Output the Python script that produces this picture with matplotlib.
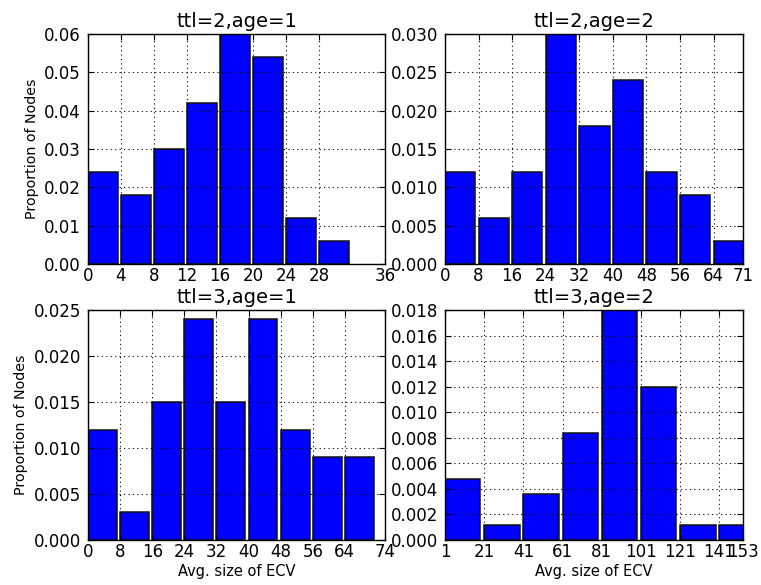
import numpy as np
import matplotlib
matplotlib.use('Agg')
import matplotlib.pyplot as plt

# ttl=2, age=1
e1 = [0, 4, 8, 12, 16, 20, 24, 28]
v1 = [0.024, 0.018, 0.030, 0.042, 0.060, 0.054, 0.012, 0.006]
t1 = [0, 4, 8, 12, 16, 20, 24, 28, 36]
# ttl=2, age=2
e2 = [0, 8, 16, 24, 32, 40, 48, 56, 64]
v2 = [0.012, 0.006, 0.012, 0.030, 0.018, 0.024, 0.012, 0.009, 0.003]
t2 = [0, 8, 16, 24, 32, 40, 48, 56, 64, 71]
# ttl=3, age=1
e3 = [0, 8, 16, 24, 32, 40, 48, 56, 64]
v3 = [0.012, 0.003, 0.015, 0.024, 0.015, 0.024, 0.012, 0.009, 0.009]
t3 = [0, 8, 16, 24, 32, 40, 48, 56, 64, 74]
# ttl=3, age=2
e4 = [1, 21, 41, 61, 81, 101, 121, 141]
v4 = [0.0048, 0.0012, 0.0036, 0.0084, 0.018, 0.012, 0.0012, 0.0012]
t4 = [1, 21, 41, 61, 81, 101, 121, 141, 153]

panels = [
    ('ttl=2,age=1', e1, v1, t1, 4, [0, 0.01, 0.02, 0.03, 0.04, 0.05, 0.06], '%.2f'),
    ('ttl=2,age=2', e2, v2, t2, 8, np.arange(0, 0.0301, 0.005), '%.3f'),
    ('ttl=3,age=1', e3, v3, t3, 8, np.arange(0, 0.0251, 0.005), '%.3f'),
    ('ttl=3,age=2', e4, v4, t4, 20, np.arange(0, 0.01801, 0.002), '%.3f'),
]

W, H = 761, 585
rects = [
    (88, 34, 385, 264),
    (445, 34, 743, 264),
    (88, 310, 385, 540),
    (445, 310, 743, 540),
]

fig = plt.figure(figsize=(W / 100, H / 100), dpi=100)
for i, (ttl, edges, vals, ticks, step, yt, fmt) in enumerate(panels):
    l, t, r, b = rects[i]
    ax = fig.add_axes([l / W, (H - b) / H, (r - l) / W, (b - t) / H])
    ax.bar(edges, vals, width=step * 0.9, align='edge', color='#0000ff',
           edgecolor='#111111', linewidth=1.1, zorder=2)
    ax.set_xlim(ticks[0], ticks[-1])
    ax.set_ylim(yt[0], yt[-1])
    ax.set_xticks(ticks)
    ax.set_yticks(yt)
    ax.set_yticklabels([fmt % y for y in yt])
    ax.grid(True, linestyle=(0, (1, 3)), color='black', linewidth=0.8, zorder=3)
    ax.set_axisbelow(False)
    ax.tick_params(direction='in', top=True, right=True, labelsize=12, length=4)
    ax.tick_params(axis='x', pad=2)
    ax.tick_params(axis='y', pad=5)
    ax.set_title(ttl, fontsize=14, pad=5)
    if i % 2 == 0:
        ax.set_ylabel('Proportion of Nodes', fontsize=10.3, labelpad=4)
    if i >= 2:
        ax.set_xlabel('Avg. size of ECV', fontsize=10.5, labelpad=2)
    for s in ax.spines.values():
        s.set_linewidth(1)

fig.savefig('out.png', dpi=100)
